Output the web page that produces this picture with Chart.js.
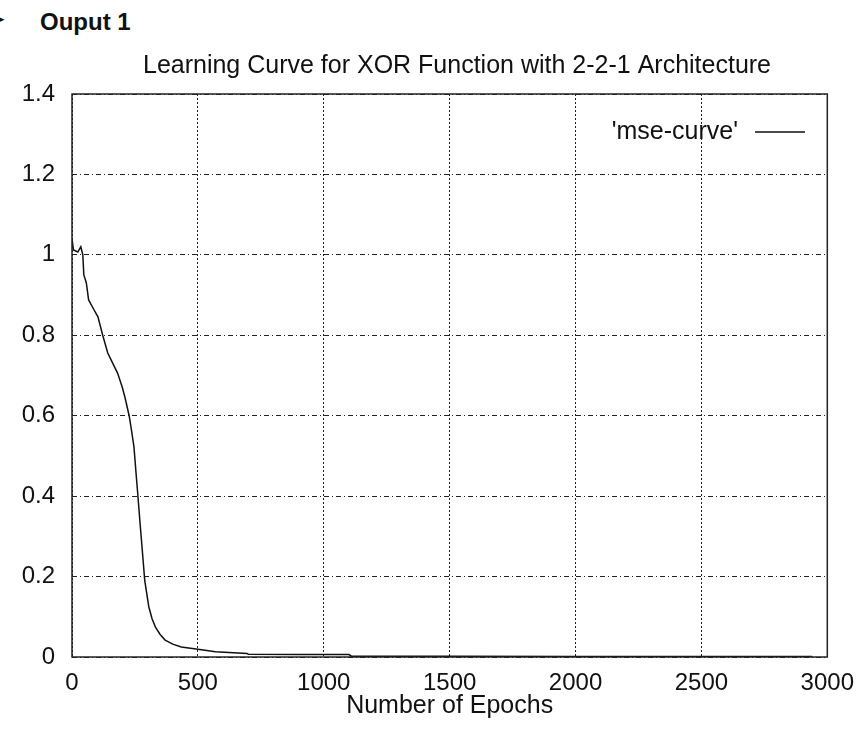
<!DOCTYPE html>
<html>
<head>
<meta charset="utf-8">
<script src="https://cdn.jsdelivr.net/npm/chart.js@4/dist/chart.umd.min.js"></script>
<style>
    html, body { margin: 0; padding: 0; background: #fff; overflow: hidden; }
    #wrap { position: relative; width: 866px; height: 729px; }
    #chart { position: absolute; left: 0; top: 0; }
    .heading { position: absolute; font-family: "Liberation Sans", Arial, sans-serif; color: #111; }
    #bullet { left: -9px; top: 9px; font-family: "DejaVu Sans", sans-serif; font-size: 17px; }
    #output-label { left: 40px; top: 8px; font-size: 24px; font-weight: bold; line-height: 28px; }
</style>
</head>
<body>
<div id="wrap">
    <div class="heading" id="bullet">➤</div>
    <div class="heading" id="output-label">Ouput 1</div>
    <canvas id="chart" width="866" height="729"></canvas>
</div>
<script>
// Learning curve
const epochs = [0, 3, 6, 23, 35, 43, 47, 57, 66, 85, 103, 122, 142, 162, 181, 200, 211, 227, 236, 246, 254, 262, 270, 278, 289, 305, 318, 331, 350, 370, 400, 434, 493, 570, 695, 700, 900, 1100, 1110, 1500, 2000, 2500, 2940];
const mse = [1.04, 1.04, 1.012, 1.007, 1.02, 1.0, 0.95, 0.93, 0.888, 0.866, 0.846, 0.80, 0.756, 0.73, 0.706, 0.67, 0.644, 0.60, 0.565, 0.523, 0.46, 0.399, 0.335, 0.274, 0.19, 0.125, 0.095, 0.075, 0.056, 0.042, 0.032, 0.025, 0.02, 0.013, 0.009, 0.007, 0.006, 0.006, 0.002, 0.002, 0.0015, 0.0012, 0.001];

const xTicks = [0, 500, 1000, 1500, 2000, 2500, 3000];
const xTickLabels = ['0', '500', '1000', '1500', '2000', '2500', '3000'];
const yTicks = [0, 0.2, 0.4, 0.6, 0.8, 1, 1.2, 1.4];
const yTickLabels = ['0', '0.2', '0.4', '0.6', '0.8', '1', '1.2', '1.4'];

const chartTitle = 'Learning Curve for XOR Function with 2-2-1 Architecture';
const xTitle = 'Number of Epochs';
const seriesName = "'mse-curve'";

const fontFamily = '"Liberation Sans", Arial, sans-serif';
const ink = '#111';

// Title, gnuplot style key and the frame round the plot
const extras = {
    id: 'extras',
    afterDraw(chart) {
        const ctx = chart.ctx;
        const area = chart.chartArea;
        ctx.save();

        ctx.strokeStyle = '#222';
        ctx.lineWidth = 1.5;
        ctx.setLineDash([]);
        ctx.strokeRect(area.left, area.top, area.right - area.left, area.bottom - area.top);

        ctx.fillStyle = ink;
        ctx.font = '25px ' + fontFamily;
        ctx.textBaseline = 'middle';
        ctx.textAlign = 'center';
        ctx.fillText(chartTitle, 457, 66);

        ctx.textAlign = 'right';
        ctx.fillText(seriesName, 738, 132);
        ctx.strokeStyle = ink;
        ctx.lineWidth = 1.5;
        ctx.beginPath();
        ctx.moveTo(755, 132);
        ctx.lineTo(805, 132);
        ctx.stroke();

        ctx.restore();
    }
};

const ctx = document.getElementById('chart').getContext('2d');
const chart = new Chart(ctx, {
    type: 'line',
    data: {
        datasets: [{
            label: seriesName,
            data: epochs.map((e, i) => ({ x: e, y: mse[i] })),
            borderColor: ink,
            borderWidth: 1.5,
            pointRadius: 0,
            tension: 0,
            fill: false
        }]
    },
    options: {
        responsive: false,
        animation: false,
        layout: { padding: { top: 94, right: 34, bottom: 0, left: 0 } },
        plugins: {
            legend: { display: false },
            title: { display: false },
            tooltip: { enabled: false }
        },
        scales: {
            x: {
                type: 'linear',
                min: 0,
                max: 3000,
                afterBuildTicks: scale => { scale.ticks = xTicks.map(v => ({ value: v })); },
                afterFit: scale => { scale.height = 72; },
                grid: { color: '#222', lineWidth: 1, drawTicks: false },
                border: { display: false, dash: [2, 2] },
                ticks: {
                    padding: 12,
                    color: ink,
                    font: { family: fontFamily, size: 24 },
                    maxRotation: 0,
                    callback: (v) => xTickLabels[xTicks.indexOf(v)]
                },
                title: {
                    display: true,
                    text: xTitle,
                    color: ink,
                    font: { family: fontFamily, size: 25 },
                    padding: { top: 0, bottom: 8 }
                }
            },
            y: {
                min: 0,
                max: 1.4,
                afterBuildTicks: scale => { scale.ticks = yTicks.map(v => ({ value: v })); },
                afterFit: scale => { scale.width = 72; },
                grid: { color: '#222', lineWidth: 1, drawTicks: false },
                border: { display: false, dash: [5, 3, 1, 3] },
                ticks: {
                    padding: 17,
                    color: ink,
                    font: { family: fontFamily, size: 24 },
                    callback: (v) => yTickLabels[yTicks.indexOf(v)]
                }
            }
        }
    },
    plugins: [extras]
});
</script>
</body>
</html>
